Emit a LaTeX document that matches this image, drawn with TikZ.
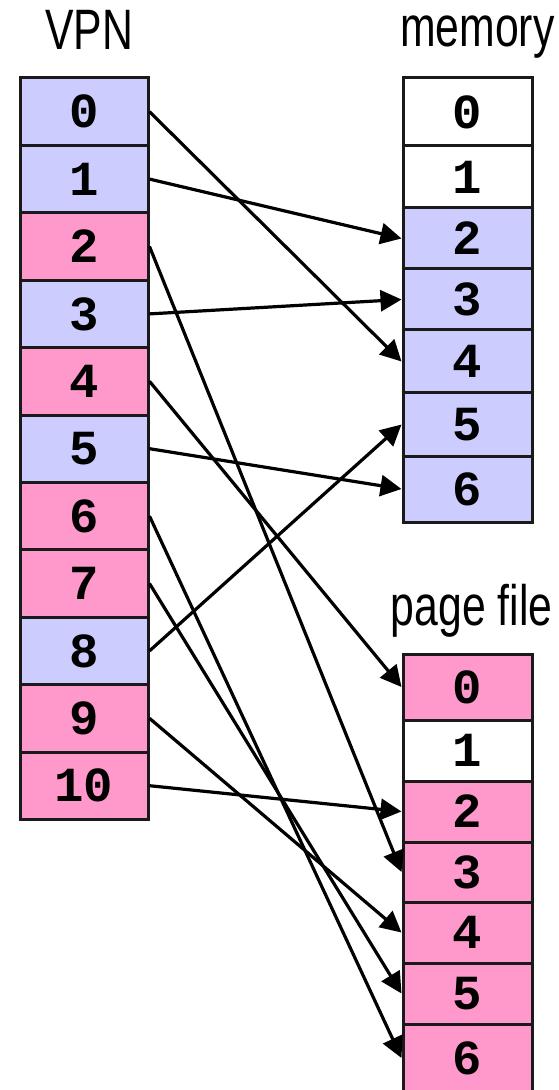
\documentclass[tikz,border=0pt]{standalone}
\usepackage{fontspec}
\setmonofont{Liberation Mono}
\newfontfamily\narrowsans[FakeStretch=0.75]{Liberation Sans}
\usetikzlibrary{arrows.meta}
\definecolor{pageblue}{HTML}{CCCCFF}
\definecolor{pagepink}{HTML}{FF99CC}
\definecolor{edgegray}{HTML}{1A1A1A}
\tikzset{
  cell/.style={draw=edgegray, line width=1.5pt, inner sep=0pt, anchor=center,
    font=\fontsize{24.5}{24.5}\selectfont\ttfamily\bfseries, text=black},
  vcell/.style={cell, minimum width=64pt, minimum height=33.7pt},
  rcell/.style={cell, minimum width=64.5pt},
  title/.style={font=\fontsize{28.5}{28.5}\selectfont\narrowsans, inner sep=0pt},
  link/.style={draw=black, line width=1.6pt, -{Triangle[length=10.5pt,width=10.5pt]}}
}
\begin{document}
\begin{tikzpicture}[x=0.5pt,y=-0.5pt]
\useasboundingbox (0,0) rectangle (558,1090);

% column titles
\node[title, anchor=base] (tvpn) at (89,50) {VPN};
\node[title, anchor=base east] (tmem) at (555,47) {memory};
\node[title, anchor=base east] (tpf) at (553,625) {page file};

% virtual pages
\foreach \i/\c in {0/pageblue,1/pageblue,2/pagepink,3/pageblue,4/pagepink,5/pageblue,
                   6/pagepink,7/pagepink,8/pageblue,9/pagepink,10/pagepink}
  \node[vcell, fill=\c] (v\i) at (84,{78+67.4*(\i+0.5)}) {\i};

% physical memory frames
\node[rcell, fill=white,    minimum height=34pt]   (m0) at (467.5,112)   {0};
\node[rcell, fill=white,    minimum height=31pt]   (m1) at (467.5,177)   {1};
\node[rcell, fill=pageblue, minimum height=30.5pt] (m2) at (467.5,238.5) {2};
\node[rcell, fill=pageblue, minimum height=30.5pt] (m3) at (467.5,299.5) {3};
\node[rcell, fill=pageblue, minimum height=31.5pt] (m4) at (467.5,361.5) {4};
\node[rcell, fill=pageblue, minimum height=31.5pt] (m5) at (467.5,424.5) {5};
\node[rcell, fill=pageblue, minimum height=33pt]   (m6) at (467.5,489)   {6};

% page file slots
\node[rcell, fill=pagepink, minimum height=33pt]   (p0) at (467.5,687)    {0};
\node[rcell, fill=white,    minimum height=30.5pt] (p1) at (467.5,750.5)  {1};
\node[rcell, fill=pagepink, minimum height=30.5pt] (p2) at (467.5,811.5)  {2};
\node[rcell, fill=pagepink, minimum height=30pt]   (p3) at (467.5,872)    {3};
\node[rcell, fill=pagepink, minimum height=30.5pt] (p4) at (467.5,932.5)  {4};
\node[rcell, fill=pagepink, minimum height=30.5pt] (p5) at (467.5,993.5)  {5};
\node[rcell, fill=pagepink, minimum height=34pt]   (p6) at (467.5,1058)   {6};

% page mappings
\draw[link] (v0.east)  -- (m4.west);
\draw[link] (v1.east)  -- (m2.west);
\draw[link] (v2.east)  -- (p3.west);
\draw[link] (v3.east)  -- (m3.west);
\draw[link] (v4.east)  -- (p0.west);
\draw[link] (v5.east)  -- (m6.west);
\draw[link] (v6.east)  -- (p6.west);
\draw[link] (v7.east)  -- (p5.west);
\draw[link] (v8.east)  -- (m5.west);
\draw[link] (v9.east)  -- (p4.west);
\draw[link] (v10.east) -- (p2.west);
\end{tikzpicture}
\end{document}
